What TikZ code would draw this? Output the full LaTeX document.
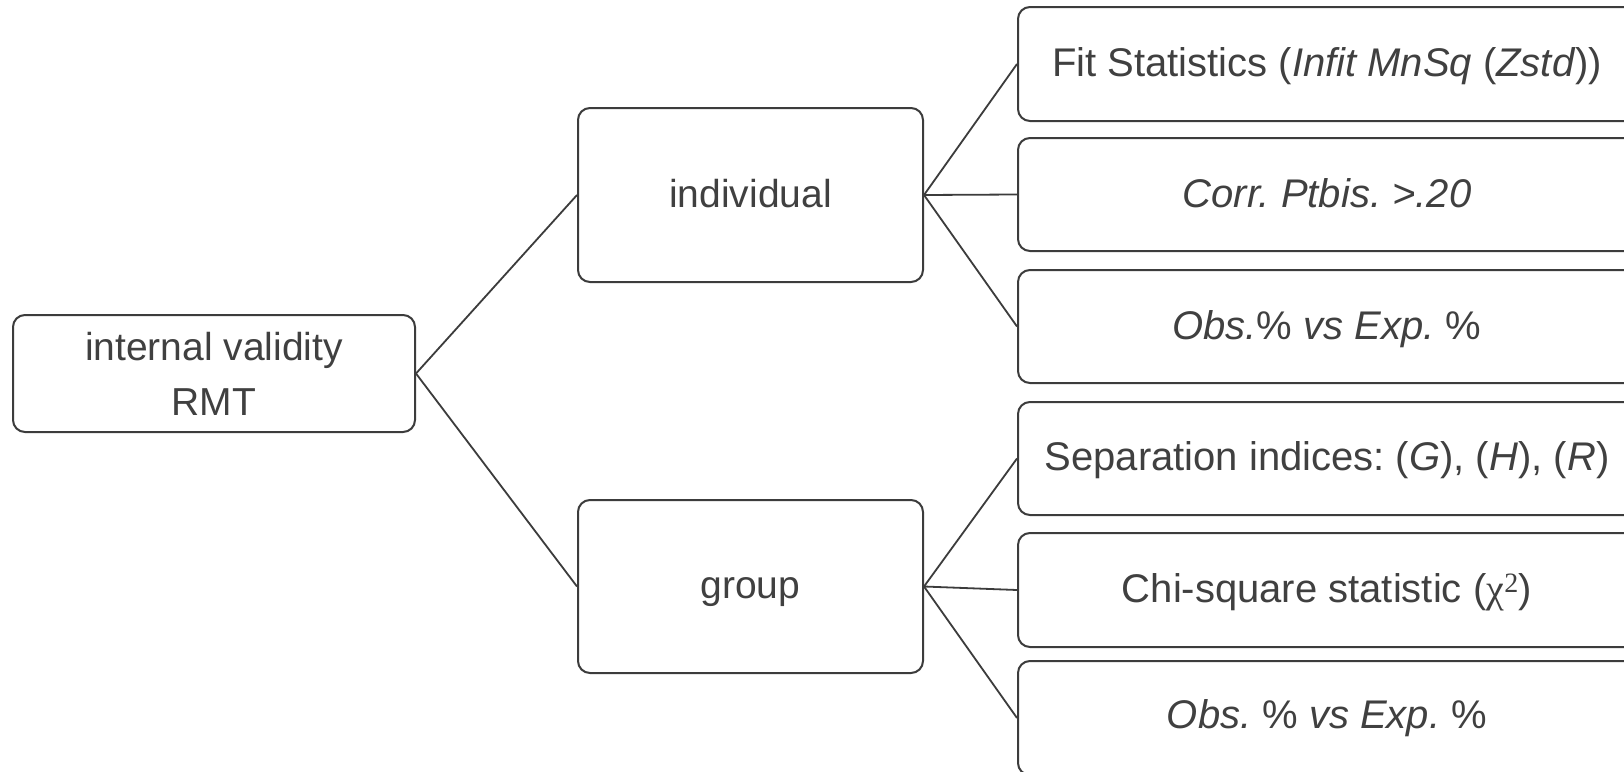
\documentclass[tikz,border=0pt]{standalone}
\usepackage{fontspec}
\setmainfont{Liberation Sans}
\newfontfamily\chifont{Liberation Serif}
\frenchspacing
\definecolor{linec}{HTML}{3C3C3C}
\definecolor{textc}{HTML}{404040}
\begin{document}
\begin{tikzpicture}[x=1pt,y=-1pt,
  boxst/.style={draw=linec, line width=2pt, rounded corners=12pt, rectangle, inner sep=0pt, fill=white},
  conn/.style={draw=linec, line width=1.8pt},
  txt/.style={text=textc, font=\fontsize{39}{55}\selectfont\frenchspacing, inner sep=0pt, align=center},
  btxt/.style={txt, anchor=base},
  rtxt/.style={btxt, font=\fontsize{40}{55}\selectfont\frenchspacing}
]
\useasboundingbox (0,0) rectangle (1624,771);
\clip (0,0) rectangle (1624,771);
\fill[white] (0,0) rectangle (1624,771);

% left and middle boxes
\node[boxst, txt, minimum width=402pt, minimum height=117pt] (root) at (214,373.5) {internal validity\\RMT};
\node[boxst, minimum width=345pt, minimum height=174pt] (ind) at (750.5,195) {};
\node[boxst, minimum width=345pt, minimum height=173pt] (grp) at (750.5,586.5) {};
\node[btxt] (tind) at (750.5,207) {individual};
\node[btxt] (tgrp) at (750.5,598.5) {group};

% right boxes
\node[boxst, minimum width=635pt, minimum height=114pt] (b1) at (1335.5,64) {};
\node[boxst, minimum width=635pt, minimum height=113pt] (b2) at (1335.5,194.5) {};
\node[boxst, minimum width=635pt, minimum height=113pt] (b3) at (1335.5,326.5) {};
\node[boxst, minimum width=635pt, minimum height=113pt] (b4) at (1335.5,458.5) {};
\node[boxst, minimum width=635pt, minimum height=114pt] (b5) at (1335.5,590) {};
\node[boxst, minimum width=635pt, minimum height=114pt] (b6) at (1335.5,718) {};

\node[rtxt] (t1) at (1327,76) {Fit Statistics (\textit{Infit MnSq} (\textit{Zstd}))};
\node[rtxt] (t2) at (1327,207.5) {\textit{Corr. Ptbis. >.20}};
\node[rtxt] (t3) at (1327,339) {\textit{Obs.}\% \textit{vs Exp.} \%};
\node[rtxt] (t4) at (1327,470) {Separation indices: (\textit{G}), (\textit{H}), (\textit{R})};
\node[rtxt] (t5) at (1327,602) {Chi-square statistic ({\chifont χ\textsuperscript{2}})};
\node[rtxt] (t6) at (1327,728) {\textit{Obs.} \% \textit{vs Exp.} \%};

% connectors
\draw[conn] (root.east) -- (ind.west);
\draw[conn] (root.east) -- (grp.west);
\draw[conn] (ind.east) -- (b1.west);
\draw[conn] (ind.east) -- (b2.west);
\draw[conn] (ind.east) -- (b3.west);
\draw[conn] (grp.east) -- (b4.west);
\draw[conn] (grp.east) -- (b5.west);
\draw[conn] (grp.east) -- (b6.west);
\end{tikzpicture}
\end{document}
